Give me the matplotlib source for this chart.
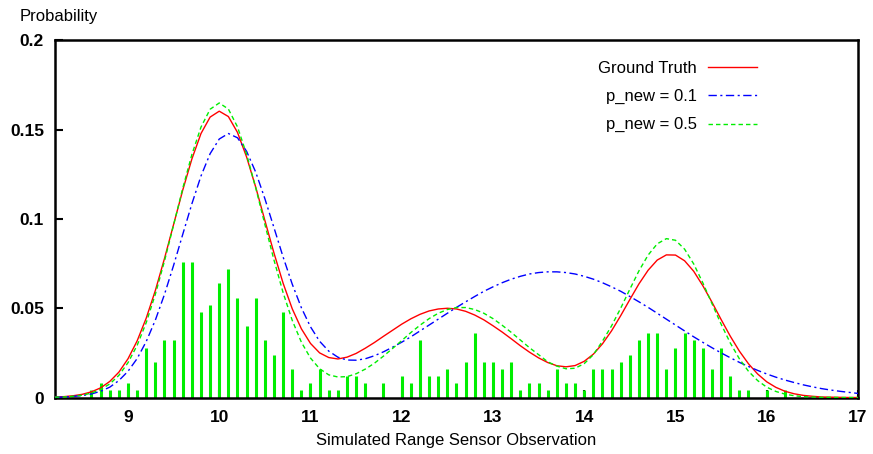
import matplotlib
matplotlib.use('Agg')
import matplotlib.pyplot as plt
import numpy as np

plt.rcParams['font.family'] = ['Liberation Sans', 'DejaVu Sans']

# curve sample points (every 0.1 from 8.2 to 17.0)
x_curve = np.round(np.arange(8.2, 17.0001, 0.1), 1)

ground_truth = [
    0.0003, 0.0005, 0.0010, 0.0018, 0.0032, 0.0054, 0.0090, 0.0142, 0.0217, 0.0317,
    0.0445, 0.0600, 0.0779, 0.0970, 0.1162, 0.1336, 0.1479, 0.1571, 0.1604, 0.1574,
    0.1485, 0.1347, 0.1178, 0.0992, 0.0809, 0.0640, 0.0497, 0.0385, 0.0303, 0.0250,
    0.0224, 0.0216, 0.0226, 0.0247, 0.0276, 0.0308, 0.0343, 0.0377, 0.0411, 0.0441,
    0.0466, 0.0485, 0.0496, 0.0500, 0.0496, 0.0483, 0.0462, 0.0435, 0.0402, 0.0367,
    0.0329, 0.0290, 0.0254, 0.0222, 0.0196, 0.0178, 0.0172, 0.0179, 0.0203, 0.0243,
    0.0301, 0.0374, 0.0459, 0.0549, 0.0637, 0.0713, 0.0770, 0.0799, 0.0798, 0.0766,
    0.0707, 0.0626, 0.0534, 0.0437, 0.0344, 0.0260, 0.0189, 0.0132, 0.0088, 0.0057,
    0.0035, 0.0021, 0.0012, 0.0007, 0.0003, 0.0002, 0.0001, 0.0000, 0.0000,
]

p_new_01 = [
    0.0001, 0.0003, 0.0006, 0.0011, 0.0020, 0.0035, 0.0058, 0.0095, 0.0147, 0.0218,
    0.0314, 0.0434, 0.0578, 0.0741, 0.0914, 0.1085, 0.1241, 0.1366, 0.1448, 0.1479,
    0.1455, 0.1379, 0.1262, 0.1114, 0.0951, 0.0787, 0.0635, 0.0503, 0.0396, 0.0315,
    0.0260, 0.0226, 0.0210, 0.0209, 0.0217, 0.0234, 0.0256, 0.0282, 0.0310, 0.0340,
    0.0373, 0.0406, 0.0439, 0.0472, 0.0505, 0.0536, 0.0566, 0.0595, 0.0620, 0.0643,
    0.0663, 0.0679, 0.0692, 0.0700, 0.0704, 0.0704, 0.0700, 0.0692, 0.0679, 0.0663,
    0.0643, 0.0620, 0.0595, 0.0566, 0.0536, 0.0505, 0.0472, 0.0439, 0.0406, 0.0373,
    0.0340, 0.0309, 0.0279, 0.0250, 0.0223, 0.0197, 0.0174, 0.0152, 0.0132, 0.0114,
    0.0098, 0.0084, 0.0071, 0.0060, 0.0050, 0.0042, 0.0035, 0.0029, 0.0023,
]

p_new_05 = [
    0.0002, 0.0003, 0.0007, 0.0013, 0.0025, 0.0045, 0.0076, 0.0124, 0.0195, 0.0292,
    0.0420, 0.0579, 0.0765, 0.0967, 0.1172, 0.1361, 0.1515, 0.1615, 0.1650, 0.1616,
    0.1516, 0.1362, 0.1174, 0.0970, 0.0770, 0.0587, 0.0432, 0.0310, 0.0221, 0.0161,
    0.0127, 0.0115, 0.0117, 0.0133, 0.0159, 0.0192, 0.0232, 0.0275, 0.0319, 0.0364,
    0.0405, 0.0442, 0.0472, 0.0493, 0.0504, 0.0504, 0.0493, 0.0472, 0.0442, 0.0405,
    0.0365, 0.0322, 0.0279, 0.0240, 0.0200, 0.0176, 0.0161, 0.0164, 0.0190, 0.0240,
    0.0316, 0.0402, 0.0501, 0.0607, 0.0710, 0.0798, 0.0861, 0.0890, 0.0881, 0.0831,
    0.0748, 0.0642, 0.0526, 0.0411, 0.0306, 0.0217, 0.0147, 0.0095, 0.0058, 0.0034,
    0.0019, 0.0010, 0.0005, 0.0003, 0.0001, 0.0001, 0.0000, 0.0000, 0.0000,
]

# histogram of simulated observations
bar_x = [8.6, 8.7, 8.8, 8.9, 9.0, 9.1, 9.2, 9.3, 9.4, 9.5, 9.6, 9.7, 9.8, 9.9,
         10.0, 10.1, 10.2, 10.3, 10.4, 10.5, 10.6, 10.7, 10.8, 10.9, 11.0, 11.1,
         11.2, 11.3, 11.4, 11.5, 11.6, 11.8, 12.0, 12.1, 12.2, 12.3, 12.4, 12.5,
         12.6, 12.7, 12.8, 12.9, 13.0, 13.1, 13.2, 13.3, 13.4, 13.5, 13.6, 13.7,
         13.8, 13.9, 14.0, 14.1, 14.2, 14.3, 14.4, 14.5, 14.6, 14.7, 14.8, 14.9,
         15.0, 15.1, 15.2, 15.3, 15.4, 15.5, 15.6, 15.7, 15.8, 16.0, 16.2]
bar_h = [0.004, 0.008, 0.004, 0.004, 0.008, 0.004, 0.028, 0.020, 0.032, 0.032, 0.076, 0.076, 0.048, 0.052,
         0.064, 0.072, 0.056, 0.040, 0.056, 0.032, 0.024, 0.048, 0.016, 0.004, 0.008, 0.016,
         0.004, 0.004, 0.012, 0.012, 0.008, 0.008, 0.012, 0.008, 0.032, 0.012, 0.012, 0.016,
         0.008, 0.020, 0.036, 0.020, 0.020, 0.016, 0.020, 0.004, 0.008, 0.008, 0.004, 0.016,
         0.008, 0.008, 0.004, 0.016, 0.016, 0.016, 0.020, 0.024, 0.032, 0.036, 0.036, 0.016,
         0.028, 0.036, 0.032, 0.028, 0.016, 0.028, 0.012, 0.004, 0.004, 0.004, 0.004]

x_ticks = [9, 10, 11, 12, 13, 14, 15, 16, 17]
y_ticks = [0, 0.05, 0.1, 0.15, 0.2]
y_tick_labels = ['0', '0.05', '0.1', '0.15', '0.2']

green = '#00ee00'

fig = plt.figure(figsize=(8.73, 4.54), dpi=100)
ax = fig.add_axes([0.0630, 0.1244, 0.9198, 0.7864])

ax.vlines(bar_x, 0, bar_h, colors=green, linewidth=2.2, zorder=2)

ax.plot(x_curve, ground_truth, color='red', linewidth=1.0, label='Ground Truth', zorder=3)
ax.plot(x_curve, p_new_01, color='blue', linewidth=1.0, dashes=(6, 2.5, 1.5, 2.5),
        label='p_new = 0.1', zorder=3)
ax.plot(x_curve, p_new_05, color=green, linewidth=1.0, dashes=(3.2, 2.2),
        label='p_new = 0.5', zorder=4)

ax.set_xlim(8.2, 17.0)
ax.set_ylim(0, 0.2)
ax.set_xticks(x_ticks)
ax.set_xticklabels([str(t) for t in x_ticks])
ax.set_yticks(y_ticks)
ax.set_yticklabels(y_tick_labels)
ax.tick_params(direction='in', length=6, width=1.5, labelsize=12.5)
ax.tick_params(axis='y', pad=8)
ax.tick_params(axis='x', pad=9)
for lab in ax.get_xticklabels() + ax.get_yticklabels():
    lab.set_fontweight('bold')
for sp in ax.spines.values():
    sp.set_linewidth(1.8)

ax.set_xlabel('Simulated Range Sensor Observation', fontsize=12, labelpad=6)
fig.text(20 / 873, 1 - 16 / 454, 'Probability', fontsize=12, ha='left', va='center')

leg = ax.legend(loc='upper right', bbox_to_anchor=(0.874, 0.942), frameon=False,
                markerfirst=False, fontsize=12, handlelength=2.95, handletextpad=0.65,
                labelspacing=0.78, borderpad=0, borderaxespad=0)

fig.savefig('out.png', dpi=100)
